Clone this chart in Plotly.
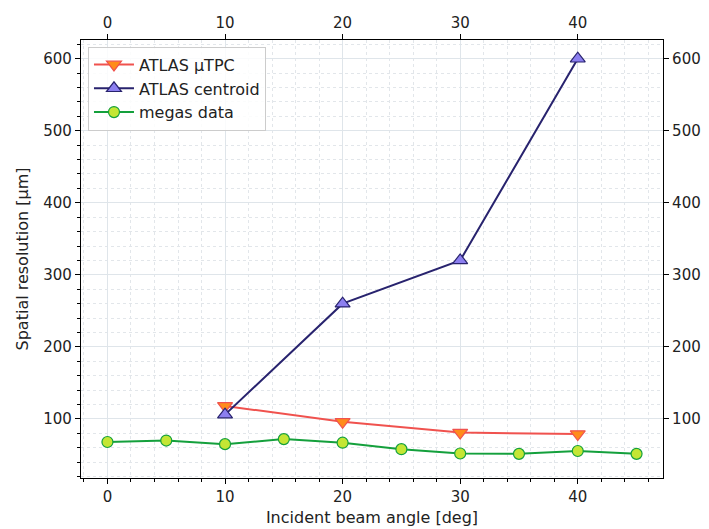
import plotly.graph_objects as go

megas_x = [0, 5, 10, 15, 20, 25, 30, 35, 40, 45]
megas_y = [68, 70, 65, 72, 67, 58, 52, 51.5, 55.5, 51.5]
tpc_x = [10, 20, 30, 40]
tpc_y = [118, 96, 81, 79]
cen_x = [10, 20, 30, 40]
cen_y = [106, 260, 320, 600]

x_range = [-2.25, 47.25]
y_range = [18, 626]

fig = go.Figure()
fig.add_trace(go.Scatter(x=tpc_x, y=tpc_y, mode="lines+markers", name="ATLAS µTPC",
    line=dict(color="#f0524e", width=2),
    marker=dict(symbol="triangle-down", size=13, color="#ff8c1a", line=dict(color="#f0524e", width=1.2))))
fig.add_trace(go.Scatter(x=cen_x, y=cen_y, mode="lines+markers", name="ATLAS centroid",
    line=dict(color="#28236e", width=2),
    marker=dict(symbol="triangle-up", size=13, color="#8c7ff0", line=dict(color="#28236e", width=1.2))))
fig.add_trace(go.Scatter(x=megas_x, y=megas_y, mode="lines+markers", name="megas data",
    line=dict(color="#14a03c", width=2),
    marker=dict(symbol="circle", size=11, color="#c4e634", line=dict(color="#14a03c", width=1.2))))
# invisible trace to activate secondary axes
fig.add_trace(go.Scatter(x=[x_range[0]], y=[y_range[0]], xaxis="x2", yaxis="y2",
    mode="markers", marker=dict(opacity=0), showlegend=False, hoverinfo="skip"))

tfont = dict(family="DejaVu Sans", size=15, color="#222")
font = dict(family="DejaVu Sans", size=16, color="#222")
common = dict(showline=True, linecolor="black", linewidth=1.2, ticks="outside", ticklen=5,
              tickcolor="black", zeroline=False, tickfont=tfont, automargin=False)
fig.update_layout(
    width=709, height=529, margin=dict(l=81, r=46, t=40, b=51),
    plot_bgcolor="white", paper_bgcolor="white", font=font,
    xaxis=dict(range=x_range, dtick=10, tick0=0, showgrid=True, gridcolor="#dfe5ea", gridwidth=1,
               minor=dict(dtick=2, tick0=0, showgrid=True, griddash="dot", gridcolor="#e2e6ea",
                          ticks="outside", ticklen=3, tickcolor="black"),
               title=dict(text="Incident beam angle [deg]", font=font, standoff=6), **common),
    yaxis=dict(range=y_range, dtick=100, tick0=0, showgrid=True, gridcolor="#dfe5ea", gridwidth=1,
               minor=dict(dtick=20, tick0=0, showgrid=True, griddash="dot", gridcolor="#e2e6ea",
                          ticks="outside", ticklen=3, tickcolor="black"),
               title=dict(text="Spatial resolution [µm]", font=font, standoff=10), **common),
    xaxis2=dict(range=x_range, dtick=10, tick0=0, tickvals=[0, 10, 20, 30, 40], overlaying="x", side="top",
                showgrid=False, **common),
    yaxis2=dict(range=y_range, dtick=100, tick0=0, overlaying="y", side="right", showgrid=False, **common),
    legend=dict(x=0.012, y=0.985, xanchor="left", yanchor="top", bgcolor="rgba(255,255,255,0.85)",
                bordercolor="#cccccc", borderwidth=1, font=font, tracegroupgap=0, itemwidth=40),
    showlegend=True,
)
fig.write_html("out.html")
